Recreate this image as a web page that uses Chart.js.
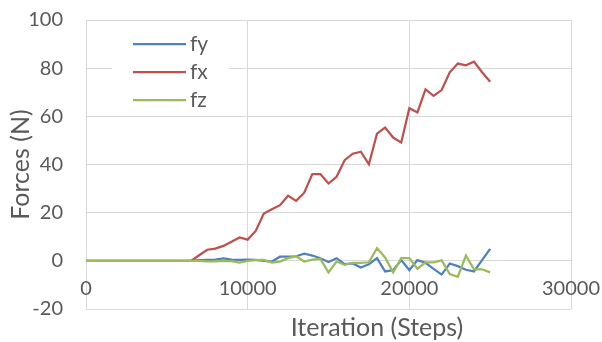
<!DOCTYPE html>
<html>
<head>
<meta charset="utf-8">
<script src="https://cdn.jsdelivr.net/npm/chart.js@4"></script>
<style>
  html, body { margin: 0; padding: 0; background: #fff; }
</style>
</head>
<body>
<canvas id="forceChart" width="602" height="342"></canvas>
<script>
// iteration steps (x values)
const steps = [0, 500, 1000, 1500, 2000, 2500, 3000, 3500, 4000, 4500,
  5000, 5500, 6000, 6500, 7000, 7500, 8000, 8500, 9000, 9500,
  10000, 10500, 11000, 11500, 12000, 12500, 13000, 13500, 14000, 14500,
  15000, 15500, 16000, 16500, 17000, 17500, 18000, 18500, 19000, 19500,
  20000, 20500, 21000, 21500, 22000, 22500, 23000, 23500, 24000, 24500, 25000];

// forces
const fy = [0, 0, 0, 0, 0, 0, 0, 0, 0, 0, 0, 0, 0, 0,
  0.3, 0.4, 0.5, 1.0, 0.5, 0.4, 0.5, 0.4, 0, -0.3,
  1.7, 1.7, 1.9, 3.0, 2.2, 1.1, -0.5, 1.1, -1.4, -1.1,
  -2.8, -1.4, 1.1, -4.4, -3.9, 0.3, -3.9, 0.3, -0.8, -3.3,
  -5.7, -1.1, -2.2, -3.7, -4.4, 0.3, 5.0];
const fx = [0, 0, 0, 0, 0, 0, 0, 0, 0, 0, 0, 0, 0, 0,
  2.3, 4.6, 5.1, 6.2, 7.9, 9.7, 8.8, 12.4, 19.6, 21.4,
  23.1, 27, 24.9, 28.3, 36, 36, 32.1, 34.9, 41.8, 44.5,
  45.3, 40.1, 52.8, 55.3, 51.2, 49.1, 63.4, 61.6, 71.2, 68.5,
  70.9, 78.3, 81.9, 81.2, 82.7, 78.3, 74.4];
const fz = [0, 0, 0, 0, 0, 0, 0, 0, 0, 0, 0, 0, 0, 0,
  0, -0.2, -0.2, 0, -0.1, -0.7, 0, 0.3, 0.4, -0.7,
  -0.3, 1.1, 1.9, -0.3, 0.5, 0.8, -4.8, -0.3, -1.7, -0.8,
  -0.8, -0.6, 5.3, 1.4, -4.8, 1.1, 1.1, -3.3, -0.6, -0.6,
  0.2, -5.5, -6.6, 2.2, -3.5, -3.5, -4.8];

const seriesNames = ["fy", "fx", "fz"];
const seriesColors = ["#4F81BD", "#C0504D", "#9BBB59"];
const seriesData = [fy, fx, fz];

const yTicks = [-20, 0, 20, 40, 60, 80, 100];
const xTicks = [0, 10000, 20000, 30000];

const FONT = "Lato, 'Open Sans', sans-serif";
const TEXT_COLOR = "#595959";
const GRID_COLOR = "#D9D9D9";

function toPoints(values) {
    return steps.map(function(s, i) { return { x: s, y: values[i] }; });
}

// legend box sits inside the plot, and the x title is drawn off-center like the original
const overlayPlugin = {
    id: "overlay",
    afterDraw: function(chart) {
        const ctx = chart.ctx;
        ctx.save();
        ctx.fillStyle = "#fff";
        ctx.fillRect(112, 26, 117, 88);
        ctx.font = "21px " + FONT;
        ctx.textBaseline = "middle";
        ctx.textAlign = "left";
        for (let i = 0; i < seriesNames.length; i++) {
            const y = 44 + i * 28;
            ctx.strokeStyle = seriesColors[i];
            ctx.lineWidth = 2.25;
            ctx.beginPath();
            ctx.moveTo(133, y);
            ctx.lineTo(186, y);
            ctx.stroke();
            ctx.fillStyle = TEXT_COLOR;
            ctx.fillText(seriesNames[i], 190, y);
        }
        // x axis title
        ctx.font = "25px " + FONT;
        ctx.textAlign = "center";
        ctx.fillText("Iteration (Steps)", 377, 328);
        ctx.restore();
    }
};

const datasets = seriesNames.map(function(name, i) {
    return {
        label: name,
        data: toPoints(seriesData[i]),
        borderColor: seriesColors[i],
        backgroundColor: seriesColors[i],
        borderWidth: 2.25,
        pointRadius: 0,
        tension: 0,
        fill: false,
        order: 3 - i
    };
});

const ctx = document.getElementById("forceChart").getContext("2d");
new Chart(ctx, {
    type: "line",
    data: { datasets: datasets },
    plugins: [overlayPlugin],
    options: {
        responsive: false,
        animation: false,
        layout: { padding: { left: 0, right: 31, top: 20, bottom: 33 } },
        plugins: {
            legend: { display: false },
            tooltip: { enabled: false }
        },
        scales: {
            x: {
                type: "linear",
                position: "bottom",
                min: 0,
                max: 30000,
                afterBuildTicks: function(scale) {
                    scale.ticks = xTicks.map(function(v) { return { value: v }; });
                },
                grid: { color: GRID_COLOR, lineWidth: 1, drawTicks: false },
                border: { display: false },
                ticks: { display: false }
            },
            // tick labels hang under the zero line, as in the original
            x2: {
                type: "linear",
                position: { y: 0 },
                min: 0,
                max: 30000,
                afterBuildTicks: function(scale) {
                    scale.ticks = xTicks.map(function(v) { return { value: v }; });
                },
                grid: { display: false, drawTicks: true, tickLength: 14 },
                border: { display: false },
                ticks: {
                    padding: 2,
                    color: TEXT_COLOR,
                    font: { family: FONT, size: 20 },
                    maxRotation: 0,
                    callback: function(value) { return String(value); }
                }
            },
            y: {
                min: -20,
                max: 100,
                afterBuildTicks: function(scale) {
                    scale.ticks = yTicks.map(function(v) { return { value: v }; });
                },
                afterFit: function(scale) { scale.width = 86; },
                grid: { color: GRID_COLOR, lineWidth: 1, drawTicks: true, tickLength: 21, tickColor: "rgba(0,0,0,0)" },
                border: { display: false },
                ticks: {
                    padding: 2,
                    color: TEXT_COLOR,
                    font: { family: FONT, size: 20 },
                    callback: function(value) { return String(value); }
                },
                title: {
                    display: true,
                    text: "Forces (N)",
                    color: TEXT_COLOR,
                    font: { family: FONT, size: 25 },
                    padding: { top: 6, bottom: 0 }
                }
            }
        }
    }
});
</script>
</body>
</html>
